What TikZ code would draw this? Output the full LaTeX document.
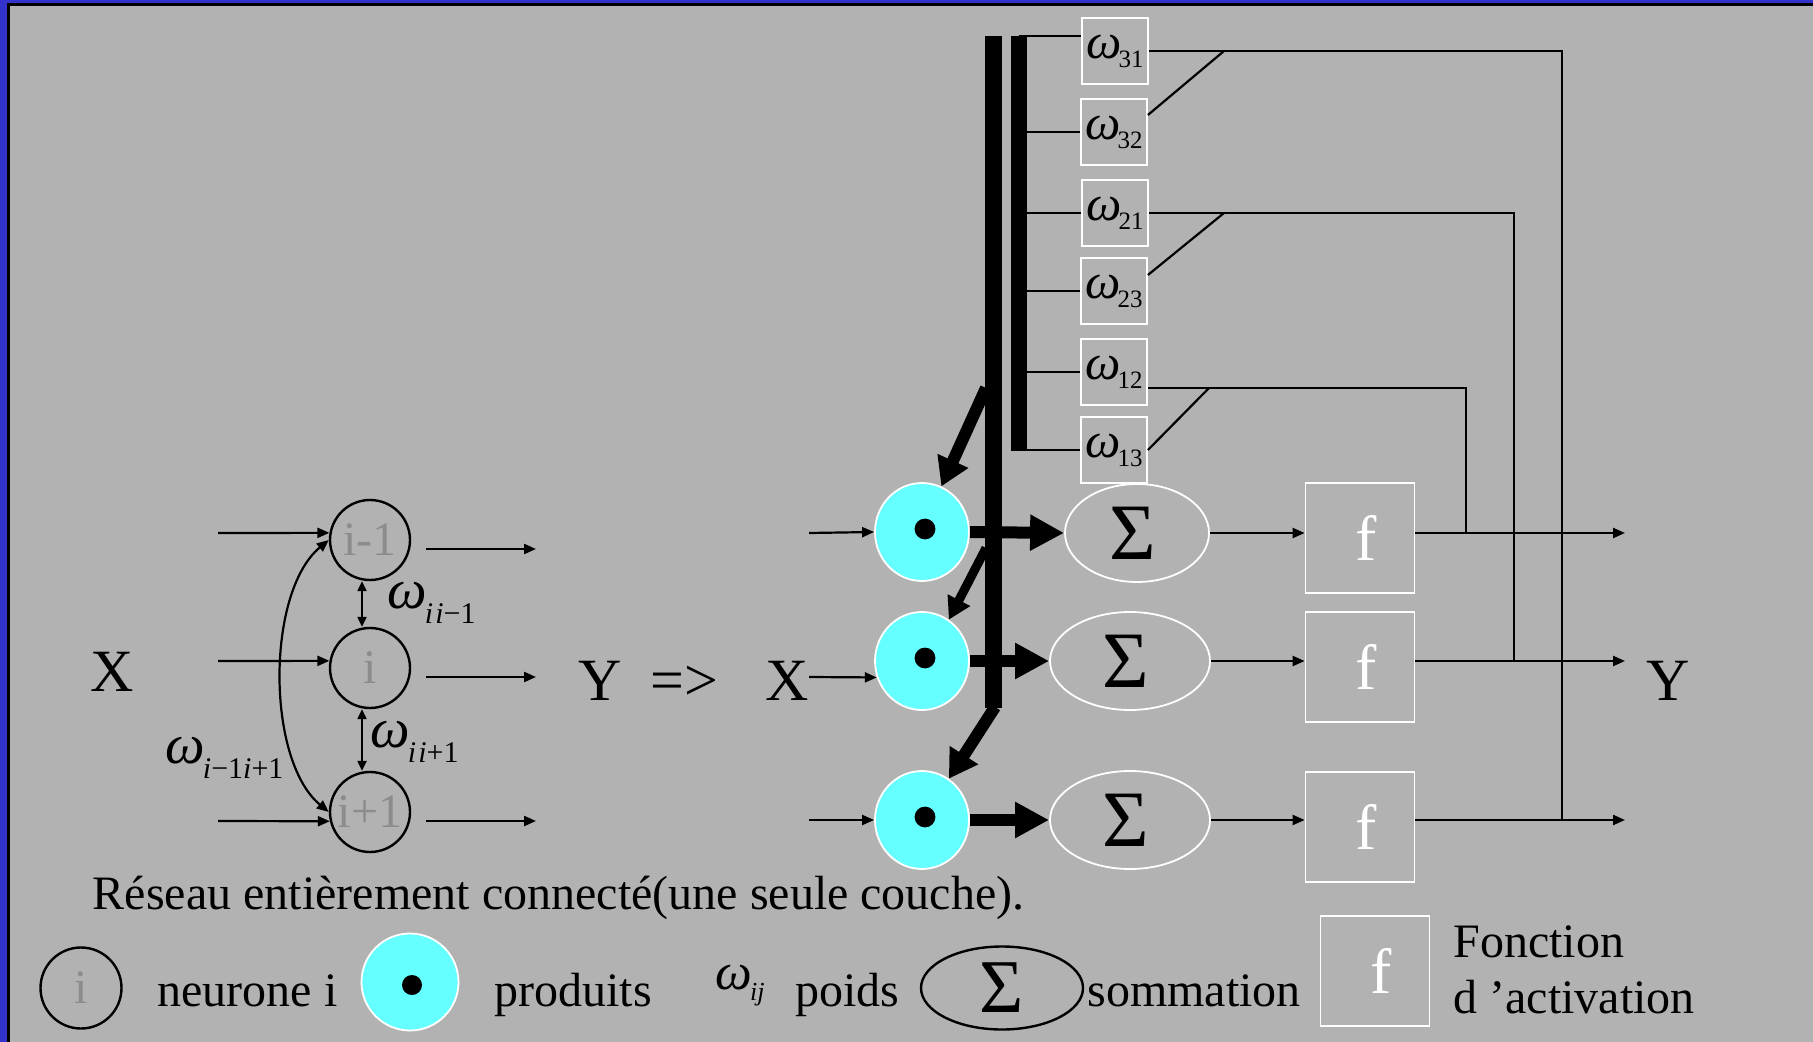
\documentclass[tikz,border=0pt]{standalone}
\usepackage{fontspec}
\setmainfont{Liberation Serif}
\usetikzlibrary{arrows.meta,shapes.geometric,calc}
\definecolor{bgrey}{RGB}{178,178,178}
\definecolor{frameblue}{RGB}{51,51,204}
\definecolor{cyanfill}{RGB}{102,255,255}
\definecolor{lblgrey}{RGB}{140,140,140}
\newcommand\fs[1]{\fontsize{#1}{#1}\selectfont}
\newcommand\omboxlab[1]{{\fs{25}\itshape ω}\kern-1.5pt\raisebox{-4.5pt}{\fs{12.5}#1}}
\begin{document}
\begin{tikzpicture}[x=0.5pt,y=-0.5pt,
  thin/.style={line width=1.1pt},
  arr/.style={thin,-{Triangle[length=6pt,width=5pt]}},
  dblarr/.style={thin,{Triangle[length=5pt,width=4.5pt]}-{Triangle[length=5pt,width=4.5pt]}},
  thickarr/.style={line width=6pt,-{Triangle[length=17pt,width=17pt]}},
  diagarr/.style={line width=6pt,-{Triangle[length=14pt,width=16pt]}},
  diagarrs/.style={line width=4.5pt,-{Triangle[length=11pt,width=12pt]}},
  neuron/.style={circle,draw=black,line width=1.2pt,minimum size=40pt,inner sep=0pt,text=lblgrey,font=\fs{24}},
  prod/.style={ellipse,draw=white,line width=0.9pt,fill=cyanfill,minimum width=47pt,minimum height=49pt,inner sep=0pt},
  sumnode/.style={ellipse,draw=white,line width=0.9pt,minimum height=49pt,inner sep=0pt,font=\fs{40}},
  fbox/.style={rectangle,draw=white,line width=0.9pt,minimum width=54.5pt,minimum height=55pt,inner sep=0pt,text=white,font=\fs{32}},
  wbox/.style={rectangle,draw=white,line width=0.9pt,minimum width=33pt,minimum height=33pt,inner sep=0pt},
  big/.style={font=\fs{30},anchor=base,inner sep=0pt},
  txt/.style={font=\fs{24},anchor=base west,inner sep=0pt},
]
% background and frame
\fill[frameblue] (0,0) rectangle (1813,1042);
\fill[black] (7.3,2.7) rectangle (1813,1042);
\fill[bgrey] (10,5.7) rectangle (1813,1042);
\useasboundingbox (0,0) rectangle (1813,1042);

% ---------- left network ----------
\node[big] (XL) at (112,691) {X};
\node[neuron] (n1) at (370,540) {i-1};
\node[neuron] (n2) at (370,668) {i};
\node[neuron] (n3) at (370,812) {i+1};
\coordinate (a1) at (218,533);
\coordinate (a2) at (218,661);
\coordinate (a3) at (218,821);
\draw[arr] (a1) -- (n1.170);
\draw[arr] (a2) -- (n2.170);
\draw[arr] (a3) -- (n3.193);
\coordinate (b1s) at (426,549); \coordinate (b1e) at (536,549);
\coordinate (b2s) at (426,677); \coordinate (b2e) at (536,677);
\coordinate (b3s) at (426,821); \coordinate (b3e) at (536,821);
\draw[arr] (b1s) -- (b1e);
\draw[arr] (b2s) -- (b2e);
\draw[arr] (b3s) -- (b3e);
\draw[dblarr] ([xshift=-4pt]n1.south) -- ([xshift=-4pt]n2.north);
\draw[dblarr] ([xshift=-4pt]n2.south) -- ([xshift=-4pt]n3.north);
\draw[thin,{Triangle[length=6pt,width=5pt]}-{Triangle[length=6pt,width=5pt]}] (n1.west) .. controls (266,592) and (266,760) .. (n3.west);
\node[anchor=base west,inner sep=0pt] (wa) at (387,608) {{\fs{28}\itshape ω}\kern-1pt\raisebox{-7.5pt}{\fs{15}\itshape i\kern1pt i\upshape −1}};
\node[anchor=base west,inner sep=0pt] (wb) at (370,747) {{\fs{28}\itshape ω}\kern-1pt\raisebox{-7.5pt}{\fs{15}\itshape i\kern1pt i\upshape +1}};
\node[anchor=base west,inner sep=0pt] (wc) at (165,763) {{\fs{28}\itshape ω}\kern-1pt\raisebox{-7.5pt}{\fs{15}\itshape i\upshape −1\itshape i\upshape +1}};
\node[big] (YL) at (600,700) {Y};
\node[big] (imp) at (684,700) {=>};

% ---------- right network ----------
\node[big] (XR) at (787,700) {X};
\node[prod] (p1) at (922,532) {};
\node[prod] (p2) at (922,661) {};
\node[prod] (p3) at (922,820) {};
\foreach \p in {p1,p2,p3} \fill (\p) ++(1.5pt,1.5pt) circle (5.2pt);
\node[sumnode,minimum width=72pt] (s1) at (1137,533) {\kern-4pt Σ};
\node[sumnode,minimum width=80pt] (s2) at (1130,661) {\kern-4pt Σ};
\node[sumnode,minimum width=80pt] (s3) at (1130,820) {\kern-4pt Σ};
\node[fbox] (f1) at (1360,538) {\kern6pt f};
\node[fbox] (f2) at (1360,667) {\kern6pt f};
\node[fbox] (f3) at (1360,827) {\kern6pt f};
\node[big] (YR) at (1668,700) {Y};

\coordinate (x1) at (809,533);
\coordinate (x2) at (809,677);
\coordinate (x3) at (809,820);
\draw[arr] (x1) -- (p1.west);
\draw[arr] (x2) -- (p2.200);
\draw[arr] (x3) -- (p3.west);

\draw[thickarr] (p1.east) -- (s1.west);
\draw[thickarr] (p2.east) -- (s2.west);
\draw[thickarr] (p3.east) -- (s3.west);

\draw[arr] (s1.east) -- (s1.east -| f1.west);
\draw[arr] (s2.east) -- (s2.east -| f2.west);
\draw[arr] (s3.east) -- (s3.east -| f3.west);

\coordinate (o1) at (1625,533);
\coordinate (o2) at (1625,661);
\coordinate (o3) at (1625,820);
\draw[arr] (o1 -| f1.east) -- (o1);
\draw[arr] (o2 -| f2.east) -- (o2);
\draw[arr] (o3 -| f3.east) -- (o3);

% weight boxes
\node[wbox] (w31) at (1115,51) {\omboxlab{31}};
\node[wbox] (w32) at (1114,132) {\omboxlab{32}};
\node[wbox] (w21) at (1115,213) {\omboxlab{21}};
\node[wbox] (w23) at (1114,291) {\omboxlab{23}};
\node[wbox] (w12) at (1114,372) {\omboxlab{12}};
\node[wbox] (w13) at (1114,450) {\omboxlab{13}};

% bars
\coordinate (bt1) at (993.5,36);
\coordinate (bb1) at (993.5,708);
\coordinate (bt2) at (1019,36);
\coordinate (bb2) at (1019,451);
\draw[line width=8.5pt] (bt1) -- (bb1);
\draw[line width=8pt] (bt2) -- (bb2);
\draw[thin] (bt2) -- (bt2 -| w31.west);
\foreach \w in {w32,w21,w23,w12,w13} \draw[thin] (\w.west -| bt2) -- (\w.west);

% weights to outputs
\coordinate (j3) at (1562,820);
\coordinate (j2) at (1514,661);
\coordinate (j1) at (1466,533);
\draw[thin] (w31.east) -| (j3);
\draw[thin] ([yshift=-8pt]w12.east) -| (j1);
\draw[thin] (w21.east) -| (j2);
\draw[thin] ([yshift=8.5pt]w32.east) -- (1224,51);
\draw[thin] ([yshift=8pt]w23.east) -- (1224,213);
\draw[thin] (w13.east) -- (1209,388);

% thick diagonals from bar to products
\coordinate (d1) at (986,388);
\coordinate (d2) at (986,548);
\coordinate (d3) at (995,707);
\draw[diagarr] (d1) -- (p1.67);
\draw[diagarrs] (d2) -- (p2.57);
\draw[diagarr] (d3) -- (p3.57);

% ---------- legend ----------
\node[txt] (title) at (92.5,909) {Réseau entièrement connecté(une seule couche).};
\node[neuron,minimum size=40.5pt] (lc) at (81,988) {i};
\node[txt] (lct) at (157,1006) {neurone i};
\node[prod,minimum width=48.5pt,minimum height=48.5pt] (lp) at (410,982) {};
\fill (lp) ++(1pt,-1.5pt) circle (5pt);
\node[txt] (lpt) at (494,1006) {produits};
\node[anchor=base west,inner sep=0pt] (lw) at (715,989) {{\fs{26}\itshape ω}\kern-1pt\raisebox{-5.5pt}{\fs{13}\itshape ij}};
\node[txt] (lwt) at (795,1006) {poids};
\node[ellipse,draw=black,line width=1.2pt,minimum width=81pt,minimum height=41.5pt,inner sep=0pt,font=\fs{38}] (ls) at (1002,988) {Σ};
\node[txt] (lst) at (1087,1006) {sommation};
\node[fbox] (lf) at (1375,971) {\kern6pt f};
\node[txt] (lft1) at (1453,957) {Fonction};
\node[txt] (lft2) at (1453,1013) {d ’activation};
\end{tikzpicture}
\end{document}
